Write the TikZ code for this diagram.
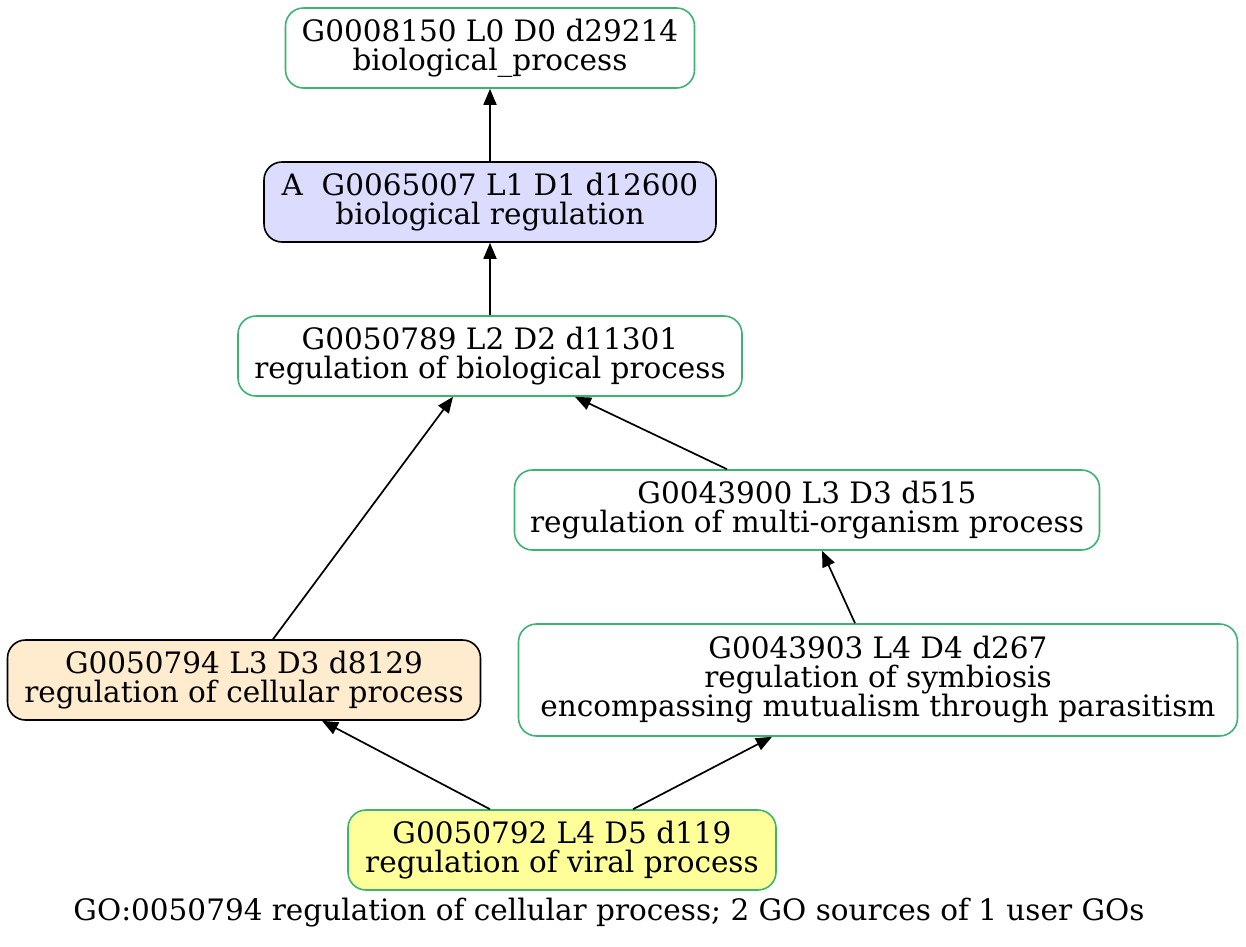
\documentclass[tikz,border=0pt]{standalone}
\usepackage{fontspec}
\setmainfont{DejaVu Serif}
\usetikzlibrary{arrows.meta,calc}
\definecolor{gborder}{HTML}{3CB371}
\definecolor{lav}{HTML}{DCDCFF}
\definecolor{almond}{HTML}{FFEBCD}
\definecolor{lyellow}{HTML}{FFFF99}
\tikzset{
  gonode/.style={draw=gborder,line width=1.6pt,rounded corners=18pt,fill=white,align=center,inner sep=0pt,font=\fontsize{29.5}{29}\selectfont},
  blknode/.style={gonode,draw=black},
  edge/.style={line width=1.7pt,-{Triangle[length=16pt,width=13pt]}},
}
\begin{document}
\begin{tikzpicture}[x=1pt,y=-1pt]
\useasboundingbox (0,0) rectangle (1246,946);
\node[gonode,minimum width=409pt,minimum height=80pt] (n1) at (490,48) {G0008150 L0 D0 d29214\\biological\_process};
\node[blknode,fill=lav,minimum width=452pt,minimum height=80pt] (n2) at (490,202) {A\ \ G0065007 L1 D1 d12600\\biological regulation};
\node[gonode,minimum width=504pt,minimum height=80pt] (n3) at (490,356) {G0050789 L2 D2 d11301\\regulation of biological process};
\node[gonode,minimum width=585pt,minimum height=80pt] (n4) at (807,510) {G0043900 L3 D3 d515\\regulation of multi-organism process};
\node[blknode,fill=almond,minimum width=473pt,minimum height=80pt] (n5) at (244,680) {G0050794 L3 D3 d8129\\regulation of cellular process};
\node[gonode,minimum width=719pt,minimum height=112pt] (n6) at (878,680) {G0043903 L4 D4 d267\\regulation of symbiosis\\encompassing mutualism through parasitism};
\node[gonode,fill=lyellow,minimum width=428pt,minimum height=80pt] (n7) at (562,850) {G0050792 L4 D5 d119\\regulation of viral process};
\node[font=\fontsize{29.5}{29}\selectfont,inner sep=0pt] (cap) at (609,913) {GO:0050794 regulation of cellular process; 2 GO sources of 1 user GOs};
\draw[edge] (n2.north) -- (n1.south);
\draw[edge] (n3.north) -- (n2.south);
\draw[edge] ($(n5.north)+(29,0)$) -- ($(n3.south)+(-37,0)$);
\draw[edge] ($(n4.north)+(-80,0)$) -- ($(n3.south)+(85,0)$);
\draw[edge] ($(n6.north)+(-23,0)$) -- ($(n4.south)+(15,0)$);
\draw[edge] ($(n7.north)+(-72,0)$) -- ($(n5.south)+(78,0)$);
\draw[edge] ($(n7.north)+(71,0)$) -- ($(n6.south)+(-106,0)$);
\end{tikzpicture}
\end{document}
